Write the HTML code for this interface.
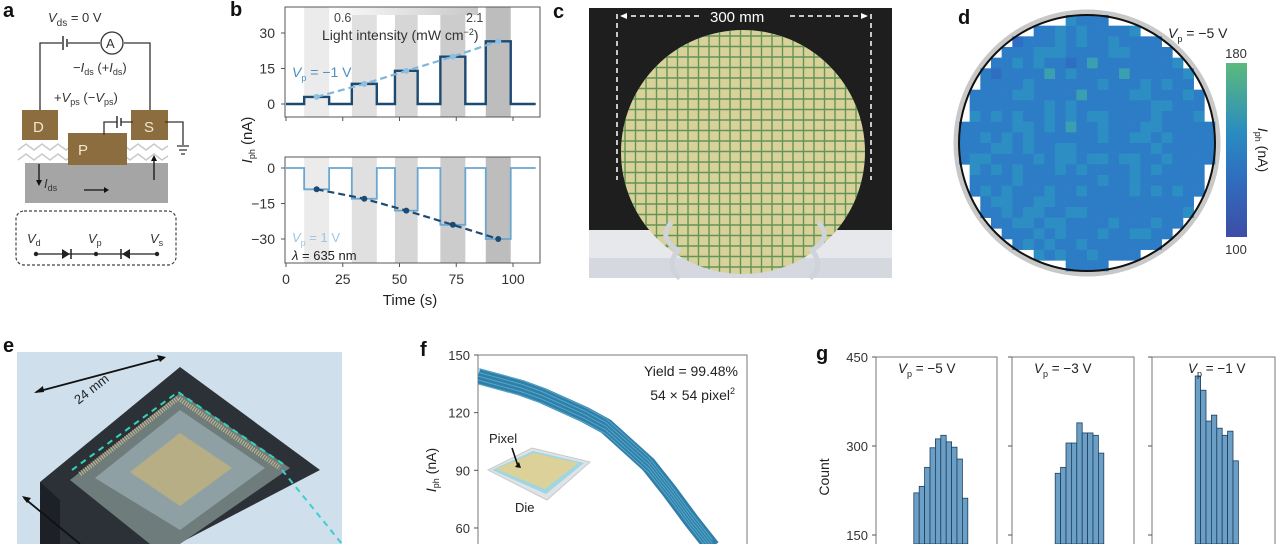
<!DOCTYPE html>
<html><head><meta charset="utf-8">
<style>
html,body{margin:0;padding:0;background:#fff;}
svg{display:block;font-family:"Liberation Sans",sans-serif;}
.pl{font-weight:bold;font-size:20px;fill:#111}
.t{font-size:13px;fill:#333}
</style></head>
<body>
<svg id="fig" width="1280" height="544" viewBox="0 0 1280 544">
<defs>
<linearGradient id="cbar" x1="0" y1="1" x2="0" y2="0">
<stop offset="0" stop-color="#3d4da6"/><stop offset="0.35" stop-color="#2f6fc0"/><stop offset="0.6" stop-color="#2a8cc0"/><stop offset="1" stop-color="#5cba7c"/></linearGradient>
<linearGradient id="lint" x1="0" y1="0" x2="1" y2="0"><stop offset="0" stop-color="#fafafa"/><stop offset="1" stop-color="#c8c8c8"/></linearGradient>
<clipPath id="fclip"><rect x="478" y="355" width="270" height="189"/></clipPath>
<clipPath id="wclip"><circle cx="743" cy="152" r="122"/></clipPath>
</defs>

<!-- Panel a -->
<g>
<text class="pl" x="3" y="17">a</text>
<text class="t" x="48" y="22" font-size="14"><tspan font-style="italic">V</tspan><tspan font-size="10" dy="4">ds</tspan><tspan dy="-4"> = 0 V</tspan></text>
<path d="M40,112 V43 H62 M68,43 H100 M124,43 H150 V112" fill="none" stroke="#333" stroke-width="1.3"/>
<line x1="63" y1="36" x2="63" y2="50" stroke="#333" stroke-width="1.5"/><line x1="67" y1="39" x2="67" y2="47" stroke="#333" stroke-width="1.5"/>
<circle cx="112" cy="43" r="11" fill="#fff" stroke="#333" stroke-width="1.3"/><text x="106" y="48" font-size="13" fill="#333">A</text>
<text class="t" x="73" y="72">−<tspan font-style="italic">I</tspan><tspan font-size="9" dy="3">ds</tspan><tspan dy="-3"> (+</tspan><tspan font-style="italic">I</tspan><tspan font-size="9" dy="3">ds</tspan><tspan dy="-3">)</tspan></text>
<text class="t" x="54" y="102">+<tspan font-style="italic">V</tspan><tspan font-size="9" dy="3">ps</tspan><tspan dy="-3"> (−</tspan><tspan font-style="italic">V</tspan><tspan font-size="9" dy="3">ps</tspan><tspan dy="-3">)</tspan></text>
<rect x="25" y="163" width="143" height="40" fill="#a5a5a5"/>
<path d="M18,150 l8,-6 l8,6 l8,-6 l8,6 l8,-6 l8,6 l8,-6 l8,6 l8,-6 l8,6 l8,-6 l8,6 l8,-6 l8,6 l8,-6 l8,6 l8,-6 l8,6 l6,-4 M18,160 l8,-6 l8,6 l8,-6 l8,6 l8,-6 l8,6 l8,-6 l8,6 l8,-6 l8,6 l8,-6 l8,6 l8,-6 l8,6 l8,-6 l8,6 l8,-6 l8,6 l6,-4" fill="none" stroke="#c9c9c9" stroke-width="1.5"/>
<rect x="22" y="110" width="36" height="30" fill="#8c6d3f"/><text x="33" y="132" font-size="15" fill="#f2e6c8">D</text>
<rect x="68" y="133" width="59" height="32" fill="#8c6d3f"/><text x="78" y="155" font-size="15" fill="#f2e6c8">P</text>
<rect x="131" y="110" width="37" height="30" fill="#8c6d3f"/><text x="144" y="132" font-size="15" fill="#f2e6c8">S</text>
<path d="M104,135 V122 H117 M121,122 H133 M165,122 H183 V145" fill="none" stroke="#333" stroke-width="1.3"/>
<line x1="117" y1="116" x2="117" y2="128" stroke="#333" stroke-width="1.5"/><line x1="121" y1="118" x2="121" y2="126" stroke="#333" stroke-width="1.5"/>
<path d="M177,146 h12 M179,150 h8 M181,154 h4" stroke="#333" stroke-width="1.3"/>
<path d="M39,164 V183 M154,180 V158 M84,190 H106" stroke="#111" stroke-width="1.3"/>
<path d="M36,180 l3,6 l3,-6z M151,161 l3,-6 l3,6z M104,187 l5,3 l-5,3z" fill="#111"/>
<text class="t" x="44" y="188"><tspan font-style="italic">I</tspan><tspan font-size="9" dy="3">ds</tspan></text>
<rect x="16" y="211" width="160" height="54" rx="8" fill="none" stroke="#444" stroke-dasharray="3,2" stroke-width="1.2"/>
<text class="t" x="27" y="243" font-style="italic" font-size="14">V<tspan font-size="9" dy="3" font-style="normal">d</tspan></text>
<text class="t" x="88" y="243" font-style="italic" font-size="14">V<tspan font-size="9" dy="3" font-style="normal">p</tspan></text>
<text class="t" x="150" y="243" font-style="italic" font-size="14">V<tspan font-size="9" dy="3" font-style="normal">s</tspan></text>
<line x1="36" y1="254" x2="157" y2="254" stroke="#222" stroke-width="1.2"/>
<circle cx="36" cy="254" r="2.2" fill="#222"/><circle cx="96" cy="254" r="2.2" fill="#222"/><circle cx="157" cy="254" r="2.2" fill="#222"/>
<path d="M62,249 l8,5 l-8,5z M130,249 l-8,5 l8,5z" fill="#222"/><path d="M71,249 v10 M121,249 v10" stroke="#222" stroke-width="1.5"/>
</g>

<!-- Panel b -->
<g id="panelB">
<text class="pl" x="230" y="16">b</text>
</g>

<!-- Panel c -->
<g>
<text class="pl" x="553" y="18">c</text>
<rect x="589" y="8" width="303" height="222" fill="#1e1e1e"/>
<rect x="589" y="230" width="303" height="48" fill="#e6e8ec"/>
<rect x="589" y="258" width="303" height="20" fill="#d5d8de"/>
<circle cx="743" cy="152" r="122" fill="#d8d29a"/>
<g id="waferGrid" clip-path="url(#wclip)" stroke="#4f8a4c" stroke-width="1.4" opacity="0.85"></g>
<path d="M672,222 c-10,10 -8,20 6,28 c-8,10 -8,22 2,28 M818,222 c10,10 8,20 -6,28 c8,10 8,22 -2,28" fill="none" stroke="#cfd3da" stroke-width="5"/>
<path d="M617,14 V180 M871,14 V180" stroke="#fff" stroke-width="1.5" stroke-dasharray="5,4"/>
<path d="M622,16 H700 M790,16 H866" stroke="#fff" stroke-width="1.5" stroke-dasharray="5,4"/>
<path d="M620,16 l7,-3 v6z M868,16 l-7,-3 v6z" fill="#fff"/>
<text x="710" y="22" font-size="15" fill="#fff">300 mm</text>
</g>

<!-- Panel d -->
<g id="panelD">
<text class="pl" x="958" y="24">d</text>
</g>

<!-- Panel e -->
<g>
<text class="pl" x="3" y="352">e</text>
<rect x="17" y="352" width="325" height="192" fill="#cfdfeb"/>
<path d="M40,482 L180,367 L320,470 L178,544 L60,544 Z" fill="#2c3138"/>
<path d="M40,482 L60,500 L60,544 L40,544 Z" fill="#1d2127"/>
<path d="M70,480 L180,393 L290,468 L180,544 L150,544 Z" fill="#6f7c7c"/>
<path d="M95,478 L180,410 L265,468 L180,530 Z" fill="#8fa0a4"/>
<path d="M130,472 L180,433 L232,468 L180,506 Z" fill="#b7ae86"/>
<path d="M80,474 L178,398 L280,468" fill="none" stroke="#c9b98a" stroke-width="5" stroke-dasharray="1,1.5"/>
<path d="M72,470 L178,392 L286,466" fill="none" stroke="#2fd6b8" stroke-width="2" stroke-dasharray="6,5"/>
<path d="M282,470 L342,544" fill="none" stroke="#39d0d0" stroke-width="2" stroke-dasharray="6,5"/>
<path d="M36,392 L164,358 M24,498 L80,544" stroke="#111" stroke-width="1.8"/>
<path d="M34,393 l9,-7 l1,6z M166,357 l-9,-2 l3,7z M22,496 l9,2 l-4,5z" fill="#111"/>
<text x="72" y="398" font-size="13" fill="#222" transform="rotate(-38 85 392)">24 mm</text>
</g>

<!-- Panel f -->
<g id="panelF">
<text class="pl" x="420" y="356">f</text>
</g>

<!-- Panel g -->
<g id="panelG">
<text class="pl" x="816" y="360">g</text>
</g>
</svg>

<script>
// ---------- Panel b data ----------
const bPulseStart = [8, 29, 48, 68, 88];
const bPulseEnd = [19, 40, 58, 79, 99];
const bTopValues = [3, 8.5, 14, 20, 26.5];
const bBottomValues = [-9, -13, -18, -24, -30];
const bTimeTicks = [0, 25, 50, 75, 100];
const bTopTicks = [0, 15, 30];
const bBottomTicks = [0, -15, -30];
const bBandShade = [0.08, 0.12, 0.16, 0.2, 0.26];

// ---------- Panel d data (digit codes → 100 + 8*code nA) ----------
const dGridRows = [
"333333333443333343333333","333333333434333343333333","333332333434334333333333","323333344433334433333333",
"333334343323533333334333","333233335343333533333433","323333433333343334343333","333334433335333344333433",
"333333334343333333443333","343434334343443333433343","333334434353343334433333","334343433333343344343333",
"333443433443333333433333","344333343443443443343333","343434333434333343433333","333334333333343343333333",
"334343334334333343434333","333443344333333333333333","333343443344333333333433","333334434433334333433333",
"333333343433343344333333","333333434334333333333333","333333343433433333333333","333333333333333333333333"];
const dScaleTicks = [100, 180];

// ---------- Panel f data ----------
const fX = [0,1,2,3,4,5,6,7,8,9,10,11];
const fIph = [139,136,133,129,124,119,113,103,93,79,64,50];
const fOffsets = [-4,-2,0,2,4];
const fTicks = [60, 90, 120, 150];

// ---------- Panel g data ----------
const gCounts1 = [221,232,264,297,312,318,307,298,278,212];
const gCounts2 = [254,264,305,305,339,322,322,318,288];
const gCounts3 = [418,394,342,352,330,318,325,275];
const gStartBin = [7, 8, 8];
const gTitles = ["−5 V", "−3 V", "−1 V"];
const gTicks = [150, 300, 450];

const NS = "http://www.w3.org/2000/svg";
function mk(parent, tag, attrs){ const e=document.createElementNS(NS,tag); for(const k in attrs) e.setAttribute(k, attrs[k]); parent.appendChild(e); return e; }

// ===== Panel b =====
(function(){
 const g=document.getElementById('panelB');
 const X=t=>286+t*2.27;
 const Yt=v=>104-v*2.367;
 const Yb=v=>168-v*2.367;
 bPulseStart.forEach((s,i)=>{
  [[7,117],[157,263]].forEach(([a,b])=>{
   const r=mk(g,'rect',{x:X(s),y:a,width:X(bPulseEnd[i])-X(s),height:b-a,fill:'#000','fill-opacity':bBandShade[i]});
   
   
  });
 });
 const ib=mk(g,'rect',{x:338,y:7,width:140,height:8,fill:'url(#lint)'});
 
 
 mk(g,'text',{x:334,y:22,'font-size':12.5,fill:'#444'}).textContent='0.6';
 mk(g,'text',{x:466,y:22,'font-size':12.5,fill:'#444'}).textContent='2.1';
 const lt=mk(g,'text',{x:322,y:40,'font-size':14,fill:'#333'});
 lt.innerHTML='Light intensity (mW cm<tspan font-size="9" dy="-5">−2</tspan><tspan dy="5">)</tspan>';
 [[7,117],[157,263]].forEach(([a,b])=>{
  const f=mk(g,'rect',{x:285,y:a,width:255,height:b-a,fill:'none',stroke:'#555','stroke-width':1});
  
  
 });
 function steps(vals,Y){ let d=`M${X(0)},${Y(0)}`; bPulseStart.forEach((s,i)=>{ d+=` H${X(s)} V${Y(vals[i])} H${X(bPulseEnd[i])} V${Y(0)}`;}); d+=` H${X(110)}`; return d; }
 const tp=mk(g,'path',{d:steps(bTopValues,Yt),fill:'none',stroke:'#1d4a72','stroke-width':2.4});
 
 
 const bp=mk(g,'path',{d:steps(bBottomValues,Yb),fill:'none',stroke:'#6aa6cf','stroke-width':1.8});
 
 
 const mid=i=>(bPulseStart[i]+bPulseEnd[i])/2;
 let d1='',d2='';
 bTopValues.forEach((v,i)=>{ d1+=(i?'L':'M')+X(mid(i))+','+Yt(v); });
 bBottomValues.forEach((v,i)=>{ d2+=(i?'L':'M')+X(mid(i))+','+Yb(v); });
 const f1=mk(g,'path',{d:d1,fill:'none',stroke:'#7fb6dc','stroke-width':2.2,'stroke-dasharray':'7,4'});
 
 
 const f2=mk(g,'path',{d:d2,fill:'none',stroke:'#1d4a72','stroke-width':2.2,'stroke-dasharray':'7,4'});
 
 
 bTopValues.forEach((v,i)=>{ const c=mk(g,'circle',{cx:X(mid(i)),cy:Yt(v),r:3,fill:'#8cc0e0'});
    });
 bBottomValues.forEach((v,i)=>{ const c=mk(g,'circle',{cx:X(mid(i)),cy:Yb(v),r:3,fill:'#1d4a72'});
    });
 bTopTicks.forEach(v=>{ const t=mk(g,'text',{x:275,y:Yt(v)+5,'font-size':14,fill:'#333','text-anchor':'end'}); t.textContent=v;
   
  mk(g,'line',{x1:281,x2:285,y1:Yt(v),y2:Yt(v),stroke:'#555'}); });
 bBottomTicks.forEach(v=>{ const t=mk(g,'text',{x:275,y:Yb(v)+5,'font-size':14,fill:'#333','text-anchor':'end'}); t.textContent=v===0?'0':'−'+Math.abs(v);
   
  mk(g,'line',{x1:281,x2:285,y1:Yb(v),y2:Yb(v),stroke:'#555'}); });
 bTimeTicks.forEach(v=>{ const t=mk(g,'text',{x:X(v),y:284,'font-size':14,fill:'#333','text-anchor':'middle'}); t.textContent=v;
   
  mk(g,'line',{x1:X(v),x2:X(v),y1:263,y2:267,stroke:'#555'}); mk(g,'line',{x1:X(v),x2:X(v),y1:117,y2:121,stroke:'#555'}); });
 const xt=mk(g,'text',{x:410,y:305,'font-size':15,fill:'#222','text-anchor':'middle'}); xt.textContent='Time (s)';
  
 const yt=mk(g,'text',{x:0,y:0,'font-size':15,fill:'#222',transform:'translate(252,140) rotate(-90)','text-anchor':'middle'});
 yt.innerHTML='<tspan font-style="italic">I</tspan><tspan font-size="9" dy="3">ph</tspan><tspan dy="-3"> (nA)</tspan>';
  
 const l1=mk(g,'text',{x:292,y:77,'font-size':14,fill:'#4d8fbf'});
 l1.innerHTML='<tspan font-style="italic">V</tspan><tspan font-size="9" dy="4">p</tspan><tspan dy="-4"> = −1 V</tspan>';
  
 const l2=mk(g,'text',{x:292,y:242,'font-size':13,fill:'#9cc6e2'});
 l2.innerHTML='<tspan font-style="italic">V</tspan><tspan font-size="9" dy="4">p</tspan><tspan dy="-4"> = 1 V</tspan>';
  
 const l3=mk(g,'text',{x:292,y:260,'font-size':13,fill:'#222'});
 l3.innerHTML='<tspan font-style="italic">λ</tspan> = 635 nm';
  
})();

// ===== wafer grid (panel c decoration) =====
(function(){
 const g=document.getElementById('waferGrid');
 for(let x=625;x<=870;x+=10.5){ const l=mk(g,'line',{x1:x,x2:x,y1:28,y2:276});   }
 for(let y=36;y<=276;y+=10.5){ const l=mk(g,'line',{x1:619,x2:867,y1:y,y2:y});   }
})();

// ===== Panel d =====
(function(){
 const g=document.getElementById('panelD');
 const cx=1087, cy=143, R=128, N=dGridRows.length, cs=2*R/N;
 mk(g,'circle',{cx:cx,cy:cy,r:R+3,fill:'#fff',stroke:'#c8c8c8','stroke-width':5});
 const pal=['#3a4ea8','#3360b8','#2f6ec2','#2c7cc6','#2c8ec2','#3a9fb0','#48ad9a','#55b686','#5cba7c','#65c074'];
 dGridRows.forEach((row,r)=>{
  for(let c=0;c<row.length;c++){
   const x0=cx-R+c*cs, y0=cy-R+r*cs;
   const mx=x0+cs/2-cx, my=y0+cs/2-cy;
   if(Math.sqrt(mx*mx+my*my)>R-4) continue;
   const code=+row[c];
   const rc=mk(g,'rect',{x:x0,y:y0,width:cs+0.3,height:cs+0.3,fill:pal[code]});
   
   
  }
 });
 mk(g,'circle',{cx:cx,cy:cy,r:R,fill:'none',stroke:'#111','stroke-width':2});
 const cb=mk(g,'rect',{x:1226,y:63,width:21,height:174,fill:'url(#cbar)'});
 
 
 dScaleTicks.forEach((v,i)=>{ const t=mk(g,'text',{x:1236,y:i?58:254,'font-size':13,fill:'#333','text-anchor':'middle'}); t.textContent=v;
    });
 const cbt=mk(g,'text',{x:0,y:0,'font-size':14,fill:'#222',transform:'translate(1258,150) rotate(90)','text-anchor':'middle'});
 cbt.innerHTML='<tspan font-style="italic">I</tspan><tspan font-size="9" dy="3">ph</tspan><tspan dy="-3"> (nA)</tspan>';
  
 const vt=mk(g,'text',{x:1168,y:38,'font-size':14,fill:'#222'});
 vt.innerHTML='<tspan font-style="italic">V</tspan><tspan font-size="9" dy="4">p</tspan><tspan dy="-4"> = −5 V</tspan>';
  
})();

// ===== Panel f =====
(function(){
 const g=document.getElementById('panelF');
 const X=i=>478+i*21.3;
 const Y=v=>355+(150-v)*1.922;
 const fr=mk(g,'path',{d:'M478,544 V355 H747 V544',fill:'none',stroke:'#777','stroke-width':1});
  
 fTicks.forEach(v=>{ const t=mk(g,'text',{x:470,y:Y(v)+5,'font-size':13,fill:'#333','text-anchor':'end'}); t.textContent=v;
   
  mk(g,'line',{x1:474,x2:478,y1:Y(v),y2:Y(v),stroke:'#555'}); });
 const cg=mk(g,'g',{'clip-path':'url(#fclip)'});
 let dc=''; fX.forEach((x,i)=>{ dc+=(i?'L':'M')+X(x)+','+Y(fIph[i]); });
 const band=mk(cg,'path',{d:dc,fill:'none',stroke:'#2f7fa8','stroke-width':16,'stroke-linejoin':'round'});
  
 fOffsets.forEach(o=>{ let d=''; fX.forEach((x,i)=>{ d+=(i?'L':'M')+X(x)+','+Y(fIph[i]+o); });
  const p=mk(cg,'path',{d:d,fill:'none',stroke:'#5fb0d2','stroke-width':1,opacity:0.8});
    });
 const t1=mk(g,'text',{x:738,y:376,'font-size':14,fill:'#222','text-anchor':'end'}); t1.textContent='Yield = 99.48%';
  
 const t2=mk(g,'text',{x:735,y:400,'font-size':14,fill:'#222','text-anchor':'end'}); t2.innerHTML='54 × 54 pixel<tspan font-size="9" dy="-6">2</tspan>';
  
 const yt=mk(g,'text',{x:0,y:0,'font-size':14,fill:'#222',transform:'translate(436,470) rotate(-90)','text-anchor':'middle'});
 yt.innerHTML='<tspan font-style="italic">I</tspan><tspan font-size="9" dy="3">ph</tspan><tspan dy="-3"> (nA)</tspan>';
  
 const die=mk(g,'path',{d:'M488,470 L532,448 L590,462 L547,500 Z',fill:'#dfe3e6',stroke:'#c4cace'});
  
 mk(g,'path',{d:'M492,470 L533,451 L584,463 L546,494 Z',fill:'#9fd6e0'});
 mk(g,'path',{d:'M496,469 L534,453 L578,463 L545,489 Z',fill:'#ddd19a'});
 mk(g,'path',{d:'M512,448 L518,466',stroke:'#111','stroke-width':1.6});
 mk(g,'path',{d:'M515,467 l6,1 l-2,-6z',fill:'#111'});
 const px=mk(g,'text',{x:489,y:443,'font-size':13,fill:'#222'}); px.textContent='Pixel';
  
 const di=mk(g,'text',{x:515,y:512,'font-size':13,fill:'#222'}); di.textContent='Die';
  
})();

// ===== Panel g =====
(function(){
 const g=document.getElementById('panelG');
 const Y=v=>357+(450-v)*0.5933;
 const lefts=[876,1012,1152], rights=[997,1134,1275];
 const series=[gCounts1,gCounts2,gCounts3];
 const bw=5.4;
 series.forEach((arr,p)=>{
  const fr=mk(g,'path',{d:`M${lefts[p]},544 V357 H${rights[p]} V544`,fill:'none',stroke:'#777','stroke-width':1});
   
  arr.forEach((v,i)=>{
   const x=lefts[p]+(gStartBin[p]+i)*bw;
   const b=mk(g,'rect',{x:x,y:Y(v),width:bw,height:544-Y(v),fill:'#6b9fc6',stroke:'#1e3f5e','stroke-width':0.8});
   
   
  });
  const tt=mk(g,'text',{x:lefts[p]+(p===2?36:22),y:373,'font-size':13.5,fill:'#222'});
  tt.innerHTML='<tspan font-style="italic">V</tspan><tspan font-size="9" dy="4">p</tspan><tspan dy="-4"> = '+gTitles[p]+'</tspan>';
   
  gTicks.forEach(v=>{ mk(g,'line',{x1:lefts[p]-4,x2:lefts[p],y1:Y(v),y2:Y(v),stroke:'#555'}); });
 });
 gTicks.forEach(v=>{ const t=mk(g,'text',{x:868,y:Y(v)+5,'font-size':13,fill:'#333','text-anchor':'end'}); t.textContent=v;
    });
 const yt=mk(g,'text',{x:0,y:0,'font-size':14,fill:'#222',transform:'translate(829,477) rotate(-90)','text-anchor':'middle'}); yt.textContent='Count';
  
})();
</script>
</body></html>
